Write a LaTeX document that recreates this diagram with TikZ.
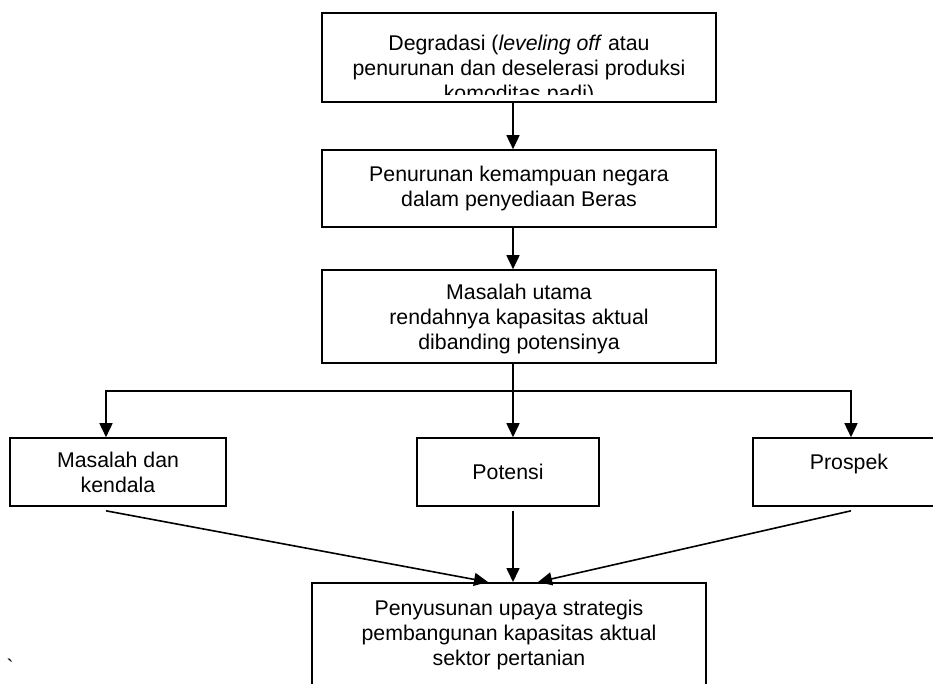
\documentclass[tikz,border=0pt]{standalone}
\usepackage{fontspec}
\setmainfont{Liberation Sans}
\newfontfamily\polos{Liberation Sans}
\usetikzlibrary{arrows.meta,calc}
\tikzset{
  kotak/.style={draw,line width=1.6pt,inner sep=0pt},
  teks/.style={font=\fontsize{21.3}{25}\selectfont,align=center},
  garis/.style={line width=1.6pt},
  panah/.style={garis,-{Triangle[length=14pt,width=13pt]}}
}
\begin{document}
\begin{tikzpicture}[x=1pt,y=-1pt]
  \clip (0,0) rectangle (933,683);
  \coordinate (sumbu) at (513,0);
  \coordinate (kiri) at (106,0);
  \coordinate (kanan) at (851,0);
  % kotak-kotak utama
  \node[kotak,minimum width=394,minimum height=89] (deg) at (519,57.5) {};
  \begin{scope}
    \clip (deg.north west) rectangle ([yshift=8pt]deg.south east);
    \node[teks,anchor=north,inner sep=0pt] (degteks) at (519,35)
      {Degradasi (\textit{leveling off} atau\\penurunan dan deselerasi produksi\\komoditas padi)};
  \end{scope}
  \node[kotak,teks,minimum width=394,minimum height=77] (pen) at (519,188.5)
    {Penurunan kemampuan negara\\dalam penyediaan Beras};
  \node[kotak,teks,minimum width=394,minimum height=93,text depth=0pt] (mu) at (519,316.5)
    {Masalah utama\\rendahnya kapasitas aktual\\dibanding potensinya};
  \node[kotak,teks,minimum width=216,minimum height=68] (mk) at (118,472)
    {Masalah dan\\kendala};
  \node[kotak,teks,minimum width=182,minimum height=68] (pot) at (508,472) {Potensi};
  \node[kotak,teks,minimum width=192,minimum height=68,text depth=20pt] (pros) at (849,472) {Prospek};
  \node[kotak,teks,anchor=north,minimum width=394,inner ysep=17pt,text depth=80pt] (sus) at (509,582)
    {Penyusunan upaya strategis\\pembangunan kapasitas aktual\\sektor pertanian};
  \node[font=\fontsize{21}{25}\polos,inner sep=0pt,anchor=base] (petik) at (10,674) {`};
  % panah
  \draw[panah] (deg.south -| sumbu) -- (pen.north -| sumbu);
  \draw[panah] (pen.south -| sumbu) -- (mu.north -| sumbu);
  \draw[garis] (mu.south -| sumbu) -- ++(0,27) coordinate (cabang);
  \foreach \k/\t in {kiri/mk,sumbu/pot,kanan/pros}
    \draw[panah] (cabang) -| (\t.north -| \k);
  \draw[panah] ($(mk.south -| kiri)+(0,4)$) -- ($(sus.north -| sumbu)+(-25,0)$);
  \draw[panah] ($(pot.south -| sumbu)+(0,4)$) -- (sus.north -| sumbu);
  \draw[panah] ($(pros.south -| kanan)+(0,4)$) -- ($(sus.north -| sumbu)+(25,0)$);
\end{tikzpicture}
\end{document}
